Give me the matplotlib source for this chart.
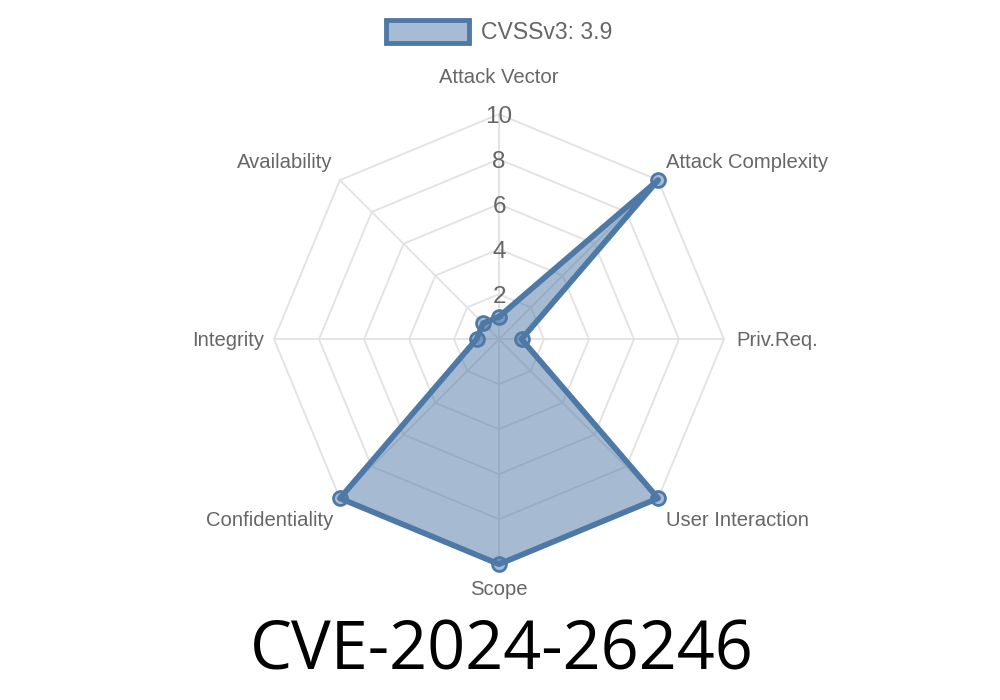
import numpy as np
import matplotlib.pyplot as plt
from matplotlib.patches import Patch

# data
categories = ['Attack Vector', 'Attack Complexity', 'Priv.Req.', 'User Interaction',
              'Scope', 'Confidentiality', 'Integrity', 'Availability']
values = [1.0, 10.0, 1.0, 10.0, 10.0, 10.0, 1.0, 1.0]
ring_levels = [2, 4, 6, 8, 10]
series_label = 'CVSSv3: 3.9'
title = 'CVE-2024-26246'

# label offsets in pixels from the outer vertex, and alignment
label_offsets = [(0, 37, 'center'), (8, 18, 'left'), (12, -1, 'left'), (8, -22, 'left'),
                 (0, -25, 'center'), (-7, -22, 'right'), (-10, -1, 'right'), (-7, 18, 'right')]

line_col = '#4e79a7'
fill_col = '#a7bbd4'
grid_col = '#e2e2e2'
text_col = '#666666'

plt.rcParams['font.family'] = ['Liberation Sans', 'DejaVu Sans']

fig = plt.figure(figsize=(10, 7), dpi=100)
ax = fig.add_axes([0.274, 0.194, 0.45, 450 / 700], projection='polar')
ax.set_theta_offset(np.pi / 2)
ax.set_theta_direction(-1)
ax.set_ylim(0, 10)
ax.grid(False)
ax.spines['polar'].set_visible(False)
ax.set_xticks([])
ax.set_yticks([])
ax.patch.set_alpha(0)

n = len(categories)
angles = np.linspace(0, 2 * np.pi, n, endpoint=False)
closed = np.append(angles, angles[0])

# octagonal grid rings and spokes
for lvl in ring_levels:
    ax.plot(closed, [lvl] * (n + 1), color=grid_col, lw=1.3, zorder=1, clip_on=False)
for a in angles:
    ax.plot([a, a], [0, 10], color=grid_col, lw=1.3, zorder=1, clip_on=False)

# data polygon (semi-transparent so the grid shows through)
vals = np.append(values, values[0])
ax.fill(closed, vals, color=line_col, alpha=0.5, lw=0, zorder=2, clip_on=False)
ax.plot(closed, vals, color=line_col, lw=4.1, zorder=3, clip_on=False)
ax.plot(angles, values, 'o', ms=10, mfc=(0.306, 0.475, 0.655, 0.5), mec=line_col,
        mew=2, zorder=4, clip_on=False)

# ring value labels along the top spoke
for lvl in ring_levels:
    ax.text(0, lvl, str(lvl), ha='center', va='center_baseline', fontsize=17.5,
            color=text_col, zorder=5)

# category labels
for a, cat, (dx, dy, ha) in zip(angles, categories, label_offsets):
    ax.annotate(cat, xy=(a, 10), xytext=(dx, dy), textcoords='offset pixels',
                ha=ha, va='center', fontsize=14.6, color=text_col, annotation_clip=False)

handle = Patch(facecolor=fill_col, edgecolor=line_col, linewidth=3.5)
fig.legend([handle], [series_label], loc='center', bbox_to_anchor=(0.499, 1 - 32 / 700),
           frameon=False, fontsize=16.6, handlelength=3.6, handleheight=1.15,
           handletextpad=0.5, labelcolor=text_col)

fig.text(0.502, 1 - 652 / 700, title, ha='center', va='center', fontsize=48,
         family=['Open Sans', 'DejaVu Sans'], color='black')

fig.savefig('out.png', dpi=100)
